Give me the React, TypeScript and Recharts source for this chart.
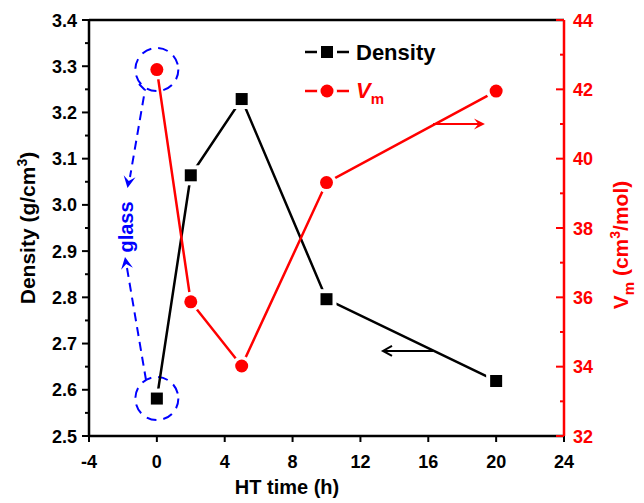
import { ComposedChart, Line, XAxis, YAxis, ReferenceLine, Customized } from 'recharts';

const HT_TIME = [0, 2, 5, 10, 20];
const DENSITY = [2.581, 3.064, 3.229, 2.796, 2.619];
const VM = [42.57, 35.87, 34.02, 39.31, 41.95];

const X_TICKS = [-4, 0, 4, 8, 12, 16, 20, 24];
const DENSITY_MAJOR = [2.5, 2.6, 2.7, 2.8, 2.9, 3.0, 3.1, 3.2, 3.3, 3.4];
const DENSITY_MINOR = [2.55, 2.65, 2.75, 2.85, 2.95, 3.05, 3.15, 3.25, 3.35];
const VM_MAJOR = [32, 34, 36, 38, 40, 42, 44];
const VM_MINOR = [33, 35, 37, 39, 41, 43];

const X_DOMAIN = [-4, 24];
const DENSITY_DOMAIN = [2.5, 3.4];
const VM_DOMAIN = [32, 44];

const data = HT_TIME.map((t, i) => ({ t, density: DENSITY[i], vm: VM[i] }));

const RED = '#ff0000';
const BLUE = '#0000ff';
const FONT = '"Liberation Sans", Arial, Helvetica, sans-serif';
const TICK_FONT = 18;

// plot box, used only to place the annotations
const PLOT = { left: 89, top: 20, right: 564, bottom: 436 };
const px = (v: number) => PLOT.left + ((v - X_DOMAIN[0]) / (X_DOMAIN[1] - X_DOMAIN[0])) * (PLOT.right - PLOT.left);
const pyD = (v: number) => PLOT.bottom - ((v - DENSITY_DOMAIN[0]) / (DENSITY_DOMAIN[1] - DENSITY_DOMAIN[0])) * (PLOT.bottom - PLOT.top);
const pyV = (v: number) => PLOT.bottom - ((v - VM_DOMAIN[0]) / (VM_DOMAIN[1] - VM_DOMAIN[0])) * (PLOT.bottom - PLOT.top);

function LeftTick({ x, y, payload }: any) {
  const major = DENSITY_MAJOR.includes(payload.value);
  return (
    <g>
      <line x1={x} x2={x - (major ? 7 : 4)} y1={y} y2={y} stroke="#000" strokeWidth={2} />
      {major && (
        <text x={x - 12} y={y + 6.5} textAnchor="end" fontSize={TICK_FONT} fontWeight="bold" fontFamily={FONT} fill="#000">
          {payload.value.toFixed(1)}
        </text>
      )}
    </g>
  );
}

function RightTick({ x, y, payload }: any) {
  const major = VM_MAJOR.includes(payload.value);
  return (
    <g>
      <line x1={x} x2={x - (major ? 8 : 4)} y1={y} y2={y} stroke={RED} strokeWidth={2} />
      {major && (
        <text x={x + 9} y={y + 6.5} textAnchor="start" fontSize={TICK_FONT} fontWeight="bold" fontFamily={FONT} fill={RED}>
          {payload.value}
        </text>
      )}
    </g>
  );
}

function BottomTick({ x, y, payload }: any) {
  return (
    <g>
      <line x1={x} x2={x} y1={y} y2={y + 6} stroke="#000" strokeWidth={2} />
      <text x={x} y={y + 32} textAnchor="middle" fontSize={TICK_FONT} fontWeight="bold" fontFamily={FONT} fill="#000">
        {payload.value}
      </text>
    </g>
  );
}

function SquareDot({ cx, cy }: any) {
  return (
    <g>
      <rect x={cx - 10} y={cy - 10} width={20} height={20} fill="#fff" />
      <rect x={cx - 6} y={cy - 6} width={12} height={12} fill="#000" />
    </g>
  );
}

function CircleDot({ cx, cy }: any) {
  return (
    <g>
      <circle cx={cx} cy={cy} r={10} fill="#fff" />
      <circle cx={cx} cy={cy} r={6.5} fill={RED} />
    </g>
  );
}

function Head({ tip, from, color, size = 10 }: { tip: [number, number]; from: [number, number]; color: string; size?: number }) {
  const dx = tip[0] - from[0];
  const dy = tip[1] - from[1];
  const len = Math.hypot(dx, dy);
  const ux = dx / len, uy = dy / len;
  const nx = -uy, ny = ux;
  const bx = tip[0] - size * ux, by = tip[1] - size * uy;
  const mx = tip[0] - size * 0.6 * ux, my = tip[1] - size * 0.6 * uy;
  const w = size * 0.5;
  const pts = [tip, [bx + w * nx, by + w * ny], [mx, my], [bx - w * nx, by - w * ny]];
  return <polygon points={pts.map((p) => p.join(',')).join(' ')} fill={color} />;
}

function Annotations() {
  const c0x = px(HT_TIME[0]);
  const cD = pyD(DENSITY[0]);
  const cV = pyV(VM[0]);
  const ay = pyD(2.684);
  const ry = pyV(41.0);
  return (
    <g fontFamily={FONT} fontWeight="bold">
      {/* glass annotation */}
      <circle cx={c0x} cy={cV} r={21.5} fill="none" stroke={BLUE} strokeWidth={2} strokeDasharray="10 7" />
      <circle cx={c0x} cy={cD} r={21.5} fill="none" stroke={BLUE} strokeWidth={2} strokeDasharray="10 7" />
      <path d="M139 84 L145 90 L130 177" stroke={BLUE} strokeWidth={2} strokeDasharray="9 6" fill="none" />
      <Head tip={[127.5, 188]} from={[145, 90]} color={BLUE} size={12} />
      <text transform="translate(133,227) rotate(-90)" textAnchor="middle" fontSize={20} fill={BLUE}>glass</text>
      <Head tip={[125, 257]} from={[146, 380]} color={BLUE} size={12} />
      <path d="M127 268 L146 380" stroke={BLUE} strokeWidth={2} strokeDasharray="9 6" fill="none" />

      {/* series arrows */}
      <line x1={px(16.28)} x2={px(13.33)} y1={ay} y2={ay} stroke="#000" strokeWidth={2} />
      <polyline points={`${px(13.33) + 9},${ay - 5} ${px(13.33)},${ay} ${px(13.33) + 9},${ay + 5}`} fill="none" stroke="#000" strokeWidth={2} />
      <line x1={px(16.28)} x2={px(19.34) - 4} y1={ry} y2={ry} stroke={RED} strokeWidth={2} />
      <Head tip={[px(19.34), ry]} from={[px(16.28), ry]} color={RED} size={11} />

      {/* legend */}
      <line x1={305} x2={349} y1={52} y2={52} stroke="#000" strokeWidth={2.5} />
      <rect x={317} y={42} width={20} height={20} fill="#fff" />
      <rect x={321} y={46} width={12} height={12} fill="#000" />
      <text x={356} y={60} fontSize={22} fill="#000">Density</text>
      <line x1={305} x2={349} y1={91} y2={91} stroke={RED} strokeWidth={2.5} />
      <circle cx={327} cy={91} r={10} fill="#fff" />
      <circle cx={327} cy={91} r={6.5} fill={RED} />
      <text x={356} y={98} fontSize={22} fill={RED}>
        <tspan fontStyle="italic">V</tspan>
        <tspan dy={6} fontSize={15}>m</tspan>
      </text>

      {/* axis titles */}
      <text x={287} y={494} textAnchor="middle" fontSize={20} fill="#000">HT time (h)</text>
      <text transform="translate(35,228) rotate(-90)" textAnchor="middle" fontSize={21} fill="#000">
        Density (g/cm<tspan dy={-8} fontSize={14}>3</tspan><tspan dy={8}>)</tspan>
      </text>
      <text transform="translate(628,245) rotate(-90)" textAnchor="middle" fontSize={21} fill={RED}>
        V<tspan dy={6} fontSize={15}>m</tspan><tspan dy={-6}> (cm</tspan><tspan dy={-8} fontSize={14}>3</tspan><tspan dy={8}>/mol)</tspan>
      </text>
    </g>
  );
}

export default function App() {
  return (
    <div style={{ position: 'absolute', left: 0, top: 0, width: 644, height: 503, background: '#fff' }}>
      <ComposedChart width={644} height={503} data={data} margin={{ top: 20, right: 30, bottom: 27, left: 29 }}>
        <XAxis
          type="number"
          dataKey="t"
          domain={X_DOMAIN}
          ticks={X_TICKS}
          interval={0}
          height={40}
          tickSize={0}
          tickMargin={0}
          tickLine={false}
          axisLine={{ stroke: '#000', strokeWidth: 2.5 }}
          tick={<BottomTick />}
        />
        <YAxis
          yAxisId="left"
          type="number"
          domain={DENSITY_DOMAIN}
          ticks={[...DENSITY_MAJOR, ...DENSITY_MINOR]}
          interval={0}
          width={60}
          tickSize={0}
          tickMargin={0}
          tickLine={false}
          axisLine={{ stroke: '#000', strokeWidth: 2.5 }}
          tick={<LeftTick />}
        />
        <YAxis
          yAxisId="right"
          orientation="right"
          type="number"
          domain={VM_DOMAIN}
          ticks={[...VM_MAJOR, ...VM_MINOR]}
          interval={0}
          width={50}
          tickSize={0}
          tickMargin={0}
          tickLine={false}
          axisLine={{ stroke: RED, strokeWidth: 2.5 }}
          tick={<RightTick />}
        />
        <ReferenceLine yAxisId="left" y={3.4} stroke="#000" strokeWidth={2.5} />
        <Line
          yAxisId="left"
          dataKey="density"
          type="linear"
          stroke="#000"
          strokeWidth={2.5}
          dot={(p: any) => <SquareDot key={`d${p.index}`} {...p} />}
          activeDot={false}
          isAnimationActive={false}
        />
        <Line
          yAxisId="right"
          dataKey="vm"
          type="linear"
          stroke={RED}
          strokeWidth={2.5}
          dot={(p: any) => <CircleDot key={`v${p.index}`} {...p} />}
          activeDot={false}
          isAnimationActive={false}
        />
        <Customized component={Annotations} />
      </ComposedChart>
    </div>
  );
}
